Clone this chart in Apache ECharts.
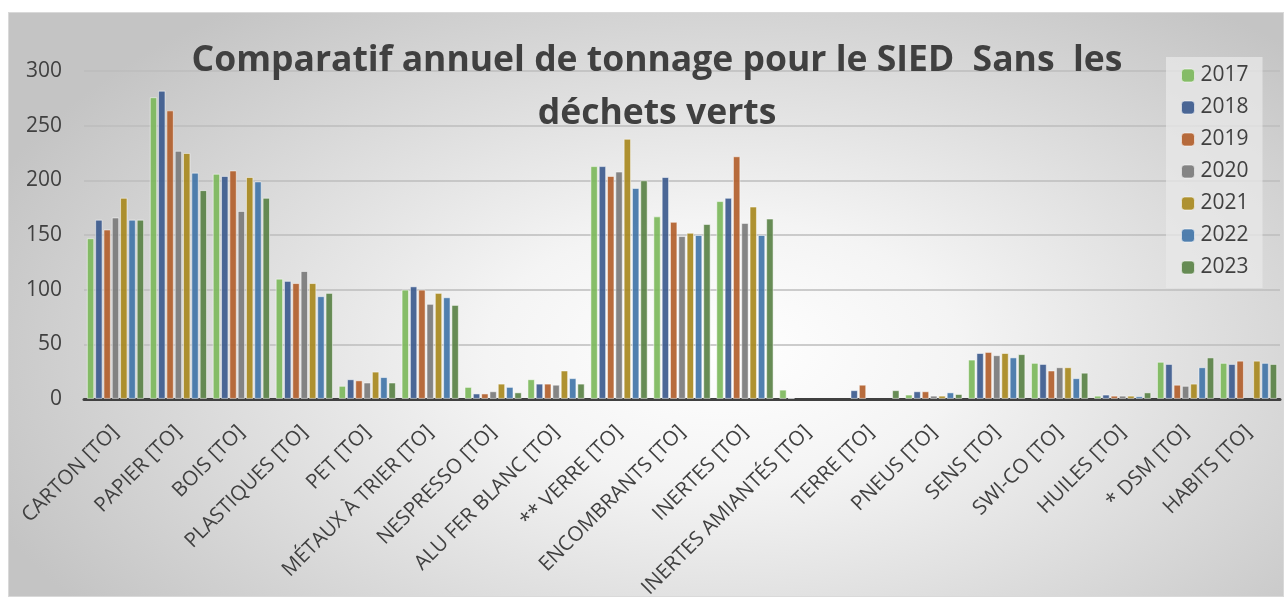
<!DOCTYPE html>
<html>
<head>
<meta charset="utf-8">
<script src="https://cdn.jsdelivr.net/npm/echarts@6/dist/echarts.min.js"></script>
<style>
    body { margin: 0; background: #ffffff; }
    #frame {
        position: absolute; left: 8px; top: 12px; width: 1274px; height: 583px;
        border: 1px solid #d9d9d9;
        background: radial-gradient(ellipse 62% 75% at 56% 58%, #ffffff 0%, #f4f4f4 30%, #c4c4c4 100%);
    }
    #chart1 { position: absolute; left: 0; top: 0; width: 1285px; height: 601px; }
</style>
</head>
<body>
<div id="frame"></div>
<div id="chart1"></div>
<script>
// categories and tonnage per year
const categories = ['CARTON [TO]', 'PAPIER [TO]', 'BOIS [TO]', 'PLASTIQUES [TO]', 'PET [TO]',
    'MÉTAUX À TRIER [TO]', 'NESPRESSO [TO]', 'ALU FER BLANC [TO]', '** VERRE [TO]',
    'ENCOMBRANTS [TO]', 'INERTES [TO]', 'INERTES AMIANTÉS [TO]', 'TERRE [TO]', 'PNEUS [TO]',
    'SENS [TO]', 'SWI-CO [TO]', 'HUILES [TO]', '* DSM [TO]', 'HABITS [TO]'];
const years = ['2017', '2018', '2019', '2020', '2021', '2022', '2023'];
const y2017 = [147, 276, 206, 110, 12, 100, 11, 18, 213, 167, 181, 8.5, null, 4, 36, 33, 3, 34, 33];
const y2018 = [164, 282, 204, 108, 18, 103, 5, 14, 213, 203, 184, 1, 8, 7, 42, 32, 4, 32, 32];
const y2019 = [155, 264, 209, 106, 17, 100, 5, 14, 204, 162, 222, null, 13, 7, 43, 26, 3, 13, 35];
const y2020 = [166, 227, 172, 117, 15, 87, 7, 13, 208, 149, 161, null, null, 3, 40, 29, 3, 12, null];
const y2021 = [184, 225, 203, 106, 25, 97, 14, 26, 238, 152, 176, null, null, 3, 42, 29, 3, 14, 35];
const y2022 = [164, 207, 199, 94, 20, 93, 11, 19, 193, 150, 150, null, null, 6, 38, 19, 2.5, 29, 33];
const y2023 = [164, 191, 184, 97, 15, 86, 6, 14, 200, 160, 165, null, 8, 4.5, 41, 24, 6, 38, 32];
const yearData = [y2017, y2018, y2019, y2020, y2021, y2022, y2023];
const colors = ['#7db95c', '#3d5b8e', '#b25f2d', '#7b7b7b', '#a8891f', '#4275a8', '#5a8246'];

let dom1 = document.getElementById("chart1");
let Chart1 = echarts.init(dom1);

let option1 = {
    animation: false,
    color: colors,
    textStyle: { fontFamily: 'Open Sans' },
    title: {
        text: 'Comparatif annuel de tonnage pour le SIED  Sans  les\ndéchets verts',
        left: 652,
        top: 29,
        textAlign: 'center',
        textStyle: {
            fontFamily: 'Open Sans',
            fontSize: 35.5,
            fontWeight: 'bold',
            color: '#404040',
            lineHeight: 53,
            align: 'center'
        }
    },
    legend: {
        data: years,
        orient: 'vertical',
        left: 1166,
        top: 57,
        padding: [8, 14, 10, 15],
        itemWidth: 13,
        itemHeight: 13,
        itemGap: 11,
        backgroundColor: 'rgba(232,232,232,0.75)',
        textStyle: { fontSize: 21, color: '#404040', padding: [0, 0, 0, 1] },
        itemStyle: { borderColor: 'rgba(255,255,255,0.6)', borderWidth: 1 }
    },
    grid: {
        left: 84,
        right: 5,
        top: 71,
        bottom: 200
    },
    xAxis: {
        type: 'category',
        data: categories,
        axisTick: { show: false },
        axisLine: { lineStyle: { color: '#404040', width: 3 } },
        axisLabel: {
            interval: 0,
            rotate: 45,
            margin: 30,
            fontSize: 20.5,
            color: '#404040'
        }
    },
    yAxis: {
        type: 'value',
        min: 0,
        max: 300,
        interval: 50,
        axisLine: { show: false },
        axisTick: { show: false },
        axisLabel: { fontSize: 21, color: '#404040', margin: 22 },
        splitLine: { lineStyle: { color: '#bdbdbd', width: 1.5 } }
    },
    series: years.map(function (y, i) {
        return {
            name: y,
            type: 'bar',
            data: yearData[i],
            barGap: '12%',
            barCategoryGap: '9%',
            itemStyle: {
                opacity: 0.92,
                borderColor: 'rgba(255,255,255,0.55)',
                borderWidth: 1
            }
        };
    })
};

Chart1.setOption(option1);
</script>
</body>
</html>
